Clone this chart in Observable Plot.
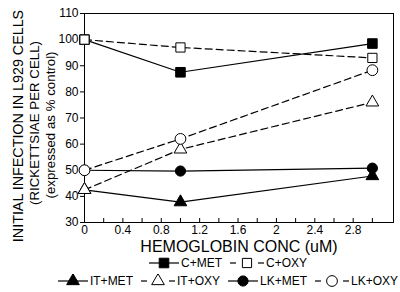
<!DOCTYPE html>
<html><head><meta charset="utf-8">
<script src="https://cdn.jsdelivr.net/npm/d3@7"></script>
<script src="https://cdn.jsdelivr.net/npm/@observablehq/plot@0.6"></script>
<style>
body{margin:0;background:#fff;font-family:"Liberation Sans",Arial,Helvetica,sans-serif;}
#chart{width:400px;height:292px;position:relative;overflow:hidden;}
.lrow{display:flex;justify-content:center;align-items:center;padding-left:56px;height:18px;font-size:12px;color:#000;}
.litem{display:flex;align-items:center;margin-right:8px;}
.litem:last-child{margin-right:0;}
.litem span{margin-left:2px;}
</style></head><body><div id="chart"></div><script>
// data
const conc = [0, 1, 3];
const seriesNames = ["C+MET", "C+OXY", "IT+MET", "IT+OXY", "LK+MET", "LK+OXY"];
const cMet  = [100, 87.5, 98.5];
const cOxy  = [100, 97, 93];
const itMet = [42.5, 37.8, 47.8];
const itOxy = [42.5, 58, 76];
const lkMet = [50, 49.7, 50.8];
const lkOxy = [50, 62, 88.3];
const xTickLabels = [0, 0.4, 0.8, 1.2, 1.6, 2, 2.4, 2.8];
const xTickMarks = [0, 0.2, 0.4, 0.6, 0.8, 1, 1.2, 1.4, 1.6, 1.8, 2, 2.2, 2.4, 2.6, 2.8, 3];
const yTicks = [30, 40, 50, 60, 70, 80, 90, 100, 110];
const legendRows = [["C+MET", "C+OXY"], ["IT+MET", "IT+OXY", "LK+MET", "LK+OXY"]];

const values = [cMet, cOxy, itMet, itOxy, lkMet, lkOxy];
const style = {
  "C+MET":  {symbol: "square",   filled: true,  dashed: false, r: 5.4},
  "C+OXY":  {symbol: "square",   filled: false, dashed: true,  r: 5.2},
  "IT+MET": {symbol: "triangle", filled: true,  dashed: false, r: 4.7},
  "IT+OXY": {symbol: "triangle", filled: false, dashed: true,  r: 4.7},
  "LK+MET": {symbol: "circle",   filled: true,  dashed: false, r: 5.1},
  "LK+OXY": {symbol: "circle",   filled: false, dashed: true,  r: 5.4}
};
const data = [];
seriesNames.forEach((s, i) => conc.forEach((c, j) => data.push({series: s, x: c, y: values[i][j]})));

const font = '"Liberation Sans",Arial,Helvetica,sans-serif';
const marks = [
  Plot.frame({stroke: "black", strokeWidth: 1}),
  Plot.axisX({ticks: xTickMarks, tickSize: 4, dy: -4, tickFormat: () => "", label: null, strokeWidth: 1}),
  Plot.axisX({ticks: xTickLabels, tickSize: 0, tickPadding: 3, label: null, fontSize: 12, tickFormat: d => String(d)}),
  Plot.axisY({ticks: yTicks, tickSize: 4, tickPadding: 2, label: null, fontSize: 12}),
  Plot.text(["HEMOGLOBIN CONC (uM)"], {frameAnchor: "bottom", dy: 24, fontSize: 16, lineAnchor: "middle", textAnchor: "middle", fill: "black"}),
  Plot.text(["INITIAL INFECTION IN L929 CELLS"], {frameAnchor: "left", rotate: -90, dx: -66, dy: 8, fontSize: 14.3, textAnchor: "middle", lineAnchor: "middle", fill: "black"}),
  Plot.text(["(RICKETTSIAE PER CELL)"], {frameAnchor: "left", rotate: -90, dx: -50, dy: 5, fontSize: 13.3, textAnchor: "middle", lineAnchor: "middle", fill: "black"}),
  Plot.text(["(expressed as % control)"], {frameAnchor: "left", rotate: -90, dx: -34, dy: 7, fontSize: 13.3, textAnchor: "middle", lineAnchor: "middle", fill: "black"})
];
seriesNames.forEach(s => {
  const st = style[s];
  const d = data.filter(e => e.series === s);
  marks.push(Plot.line(d, {x: "x", y: "y", stroke: "black", strokeWidth: 1.2, strokeDasharray: st.dashed ? "7,4" : null}));
});
seriesNames.forEach(s => {
  const st = style[s];
  const d = data.filter(e => e.series === s);
  marks.push(Plot.dot(d, {x: "x", y: "y", symbol: st.symbol, r: st.r, fill: st.filled ? "black" : "white", stroke: "black", strokeWidth: 1}));
});

const chart = Plot.plot({
  width: 400, height: 254,
  marginTop: 13, marginBottom: 32, marginLeft: 84, marginRight: 7,
  x: {domain: [0, 3.22]},
  y: {domain: [30, 110]},
  style: {fontFamily: font, fontSize: "12px", color: "black", background: "white", overflow: "visible"},
  marks
});
const root = document.getElementById("chart");
root.appendChild(chart);

// legend
const symGen = {square: d3.symbolSquare, triangle: d3.symbolTriangle, circle: d3.symbolCircle};
const legend = document.createElement("div");
legendRows.forEach(row => {
  const r = document.createElement("div");
  r.className = "lrow";
  row.forEach(name => {
    const st = style[name];
    const item = document.createElement("div");
    item.className = "litem";
    const w = st.dashed ? 34 : 30;
    const svg = d3.create("svg").attr("width", w).attr("height", 14);
    if (st.dashed) {
      svg.append("line").attr("x1", 0).attr("x2", 6).attr("y1", 7).attr("y2", 7).attr("stroke", "black").attr("stroke-width", 1.2);
      svg.append("line").attr("x1", w - 6).attr("x2", w).attr("y1", 7).attr("y2", 7).attr("stroke", "black").attr("stroke-width", 1.2);
    } else {
      svg.append("line").attr("x1", 0).attr("x2", w).attr("y1", 7).attr("y2", 7).attr("stroke", "black").attr("stroke-width", 1.2);
    }
    svg.append("path")
      .attr("transform", `translate(${w / 2},7)`)
      .attr("d", d3.symbol(symGen[st.symbol], Math.PI * st.r * st.r)())
      .attr("fill", st.filled ? "black" : "white").attr("stroke", "black");
    item.appendChild(svg.node());
    const lab = document.createElement("span");
    lab.textContent = name;
    item.appendChild(lab);
    r.appendChild(item);
  });
  legend.appendChild(r);
});
root.appendChild(legend);
</script></body></html>
